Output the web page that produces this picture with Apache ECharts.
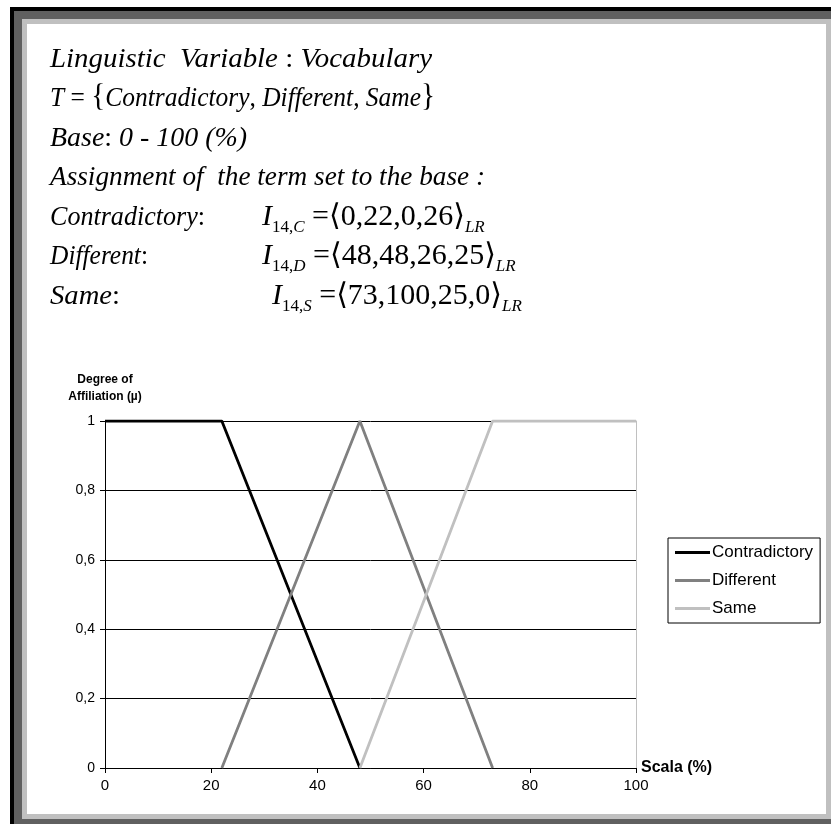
<!DOCTYPE html>
<html>
<head>
<meta charset="utf-8">
<script src="https://cdn.jsdelivr.net/npm/echarts@6/dist/echarts.min.js"></script>
<style>
  html, body { margin: 0; padding: 0; background: #ffffff; }
  #chart { width: 831px; height: 824px; }
</style>
</head>
<body>
<div id="chart"></div>
<script>
// Axis ticks
const xTicks = [0, 20, 40, 60, 80, 100];
const yTicks = [0, 0.2, 0.4, 0.6, 0.8, 1];

// Membership functions of the three terms (x = scale %, y = degree of affiliation)
const seriesNames = ['Contradictory', 'Different', 'Same'];
const contradictoryX = [0, 22, 48];
const contradictoryY = [1, 1, 0];
const differentX = [22, 48, 73];
const differentY = [0, 1, 0];
const sameX = [48, 73, 100];
const sameY = [0, 1, 1];

const seriesColors = ['#000000', '#808080', '#c0c0c0'];

const chart = echarts.init(document.getElementById('chart'), null, { renderer: 'canvas' });

// ---- text block helpers (measured with a canvas so mixed styles line up) ----
const SERIF = '"Liberation Serif", "Times New Roman", "DejaVu Serif", serif';
const SANS = '"Liberation Sans", Arial, sans-serif';
const measureCtx = document.createElement('canvas').getContext('2d');
function measure(text, italic, size) {
  measureCtx.font = (italic ? 'italic ' : '') + size + 'px ' + SERIF;
  return measureCtx.measureText(text).width;
}
// segments: [text, italic, size, dy]; baseline at yBase; optional total width
function row(segments, x0, yBase, width) {
  const widths = segments.map(function (s) { return measure(s[0], s[1], s[2]); });
  const natural = widths.reduce(function (a, b) { return a + b; }, 0);
  const k = width ? width / natural : 1;
  const out = [];
  let x = x0;
  segments.forEach(function (s, i) {
    const text = s[0], italic = s[1], size = s[2], dy = s[3] || 0;
    out.push({
      type: 'text',
      x: x,
      y: yBase + dy - size * 0.3,
      scaleX: k,
      z: 10,
      style: {
        text: text,
        fill: '#000',
        font: (italic ? 'italic ' : '') + size + 'px ' + SERIF,
        textAlign: 'left',
        textVerticalAlign: 'middle'
      }
    });
    x += widths[i] * k;
  });
  return out;
}

const F = 27;   // main text size
const G = 30;   // formula size
const S = 17;   // subscript size
const SUB = 7;  // subscript drop

function formula(x0, yBase, letter, values) {
  return row([
    ['I', true, G],
    ['14,', false, S, SUB],
    [letter, true, S, SUB],
    [' =', false, G],
    ['\u27E8' + values + '\u27E9', false, G],
    ['LR', true, S, SUB]
  ], x0, yBase);
}

const textRows = [].concat(
  row([['Linguistic  Variable', true, F], [' : ', false, F], ['Vocabulary', true, F]], 50, 68, 382),
  row([['T', true, F], [' = ', false, F], ['{', false, 31], ['Contradictory', true, F], [', ', false, F],
       ['Different', true, F], [', ', false, F], ['Same', true, F], ['}', false, 31]], 50, 107, 385),
  row([['Base', true, F], [': ', false, F], ['0 - 100 (%)', true, F]], 50, 147, 197),
  row([['Assignment of  the term set to the base :', true, F]], 50, 186, 435),
  row([['Contradictory', true, F], [':', false, F]], 50, 226, 155),
  formula(262, 226, 'C', '0,22,0,26'),
  row([['Different', true, F], [':', false, F]], 50, 265, 98),
  formula(262, 265, 'D', '48,48,26,25'),
  row([['Same', true, F], [':', false, F]], 50, 305, 70),
  formula(272, 305, 'S', '73,100,25,0')
);

// ---- frame ----
const frame = [
  { type: 'rect', shape: { x: 10, y: 7, width: 821, height: 817 }, style: { fill: '#000000' }, z: -10 },
  { type: 'rect', shape: { x: 14, y: 11, width: 817, height: 813 }, style: { fill: '#606060' }, z: -9 },
  { type: 'rect', shape: { x: 22, y: 19, width: 809, height: 800 }, style: { fill: '#c0c0c0' }, z: -8 },
  { type: 'rect', shape: { x: 27, y: 24, width: 799, height: 790 }, style: { fill: '#ffffff' }, z: -7 }
];

function pairs(xs, ys) { return xs.map(function (x, i) { return [x, ys[i]]; }); }

const option = {
  animation: false,
  backgroundColor: '#ffffff',
  graphic: { elements: frame.concat(textRows) },
  grid: { left: 105, right: 195, top: 421, bottom: 56, containLabel: false },
  legend: {
    orient: 'vertical',
    left: 668,
    top: 538,
    data: seriesNames,
    icon: 'rect',
    borderColor: '#000',
    borderWidth: 1,
    padding: [6, 7, 6, 7],
    itemWidth: 35,
    itemHeight: 3,
    itemGap: 11,
    textStyle: { fontFamily: SANS, fontSize: 17, color: '#000', padding: [0, 0, 0, -3] }
  },
  xAxis: {
    type: 'value',
    min: xTicks[0],
    max: xTicks[xTicks.length - 1],
    interval: xTicks[1] - xTicks[0],
    name: 'Scala (%)',
    nameLocation: 'end',
    nameGap: 5,
    nameTextStyle: { fontFamily: SANS, fontSize: 16, fontWeight: 'bold', color: '#000', align: 'left', verticalAlign: 'middle' },
    axisLine: { show: true, lineStyle: { color: '#000', width: 1 } },
    axisTick: { show: true, length: 5, inside: false, lineStyle: { color: '#000' } },
    axisLabel: { color: '#000', fontFamily: SANS, fontSize: 15, margin: 10 },
    splitLine: { show: false }
  },
  yAxis: [{
    type: 'value',
    min: yTicks[0],
    max: yTicks[yTicks.length - 1],
    interval: yTicks[1] - yTicks[0],
    name: 'Degree of\nAffiliation (\u00B5)',
    nameLocation: 'end',
    nameGap: 16,
    nameTextStyle: { fontFamily: SANS, fontSize: 12, fontWeight: 'bold', color: '#000', align: 'center', lineHeight: 17 },
    axisLine: { show: true, lineStyle: { color: '#000', width: 1 } },
    axisTick: { show: true, length: 5, lineStyle: { color: '#000' } },
    axisLabel: {
      color: '#000', fontFamily: SANS, fontSize: 14, margin: 10,
      formatter: function (v) { return String(Math.round(v * 10) / 10).replace('.', ','); }
    },
    splitLine: { show: true, lineStyle: { color: '#000', width: 1 } }
  }, {
    type: 'value',
    position: 'right',
    min: 0,
    max: 1,
    axisLine: { show: true, lineStyle: { color: '#c0c0c0', width: 1 } },
    axisTick: { show: false },
    axisLabel: { show: false },
    splitLine: { show: false }
  }],
  series: [
    { name: seriesNames[0], type: 'line', data: pairs(contradictoryX, contradictoryY), symbol: 'none', lineStyle: { color: seriesColors[0], width: 2.8 }, itemStyle: { color: seriesColors[0] }, z: 3 },
    { name: seriesNames[1], type: 'line', data: pairs(differentX, differentY), symbol: 'none', lineStyle: { color: seriesColors[1], width: 2.8 }, itemStyle: { color: seriesColors[1] }, z: 3 },
    { name: seriesNames[2], type: 'line', data: pairs(sameX, sameY), symbol: 'none', lineStyle: { color: seriesColors[2], width: 2.8 }, itemStyle: { color: seriesColors[2] }, z: 3 }
  ]
};

chart.setOption(option);
</script>
</body>
</html>
